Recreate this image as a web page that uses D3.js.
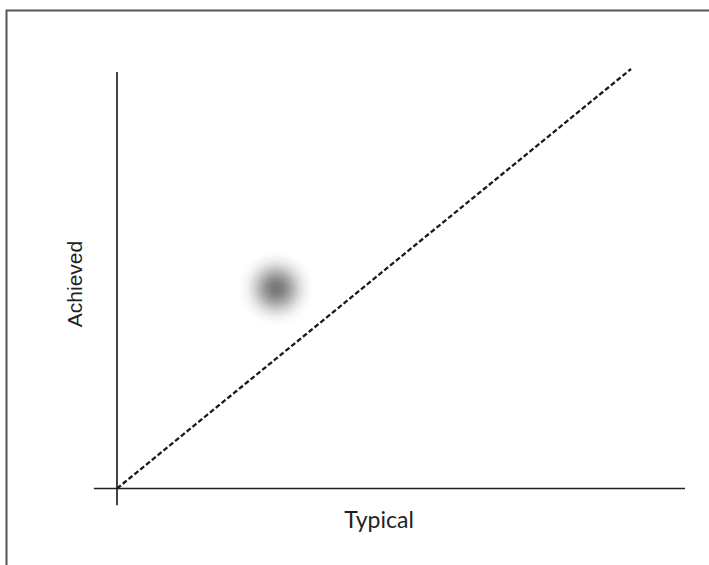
<!DOCTYPE html>
<html><head><meta charset="utf-8">
<script src="https://cdn.jsdelivr.net/npm/d3@7/dist/d3.min.js"></script>
<style>html,body{margin:0;padding:0;background:#fff;}svg{display:block;}</style>
</head><body>
<script>
// Data
const diagonal = [[0, 0], [1, 1]];            // "typical = achieved" reference line
const points = [{typical: 0.31, achieved: 0.477}]; // blurred observation
const xAxisExtent = [-0.045, 1.105];
const yAxisExtent = [-0.04, 0.993];
const labels = {x: "Typical", y: "Achieved"};

const W = 709, H = 565;
const svg = d3.select("body").append("svg").attr("width", W).attr("height", H);

const x = d3.scaleLinear().domain([0, 1]).range([117, 631]);
const y = d3.scaleLinear().domain([0, 1]).range([488.5, 69]);

const defs = svg.append("defs");
const grad = defs.append("radialGradient").attr("id", "blur");
const stops = [[0, 0.78], [0.15, 0.72], [0.3, 0.58], [0.45, 0.4], [0.6, 0.22], [0.75, 0.09], [0.88, 0.03], [1, 0]];
stops.forEach(([o, a]) => grad.append("stop").attr("offset", o * 100 + "%")
  .attr("stop-color", "#4e4e52").attr("stop-opacity", a));

// frame (left and top edges)
svg.append("path").attr("d", `M6.5,${H} V10.5 H${W}`)
  .attr("fill", "none").attr("stroke", "#555").attr("stroke-width", 2);

// blurred point
svg.selectAll("circle.pt").data(points).join("circle").attr("class", "pt")
  .attr("cx", d => x(d.typical)).attr("cy", d => y(d.achieved)).attr("r", 38)
  .attr("fill", "url(#blur)");

// axes
svg.append("line").attr("x1", x(xAxisExtent[0])).attr("x2", x(xAxisExtent[1]))
  .attr("y1", y(0)).attr("y2", y(0)).attr("stroke", "#222").attr("stroke-width", 1.7);
svg.append("line").attr("x1", x(0)).attr("x2", x(0))
  .attr("y1", y(yAxisExtent[0])).attr("y2", y(yAxisExtent[1])).attr("stroke", "#222").attr("stroke-width", 1.7);

// diagonal dashed line
svg.append("path").datum(diagonal)
  .attr("d", d3.line().x(d => x(d[0])).y(d => y(d[1])))
  .attr("fill", "none").attr("stroke", "#1a1a1a").attr("stroke-width", 2.3).attr("stroke-dasharray", "5,2.5");

// labels
svg.append("text").attr("x", 379).attr("y", 528).attr("text-anchor", "middle")
  .attr("font-family", "Lato, 'Open Sans', sans-serif").attr("font-size", 23).attr("fill", "#231f20")
  .text(labels.x);
svg.append("text").attr("transform", "translate(82,284) rotate(-90)").attr("text-anchor", "middle")
  .attr("font-family", "'Liberation Sans', Arial, sans-serif").attr("font-size", 21).attr("fill", "#231f20")
  .text(labels.y);
</script>
</body></html>
